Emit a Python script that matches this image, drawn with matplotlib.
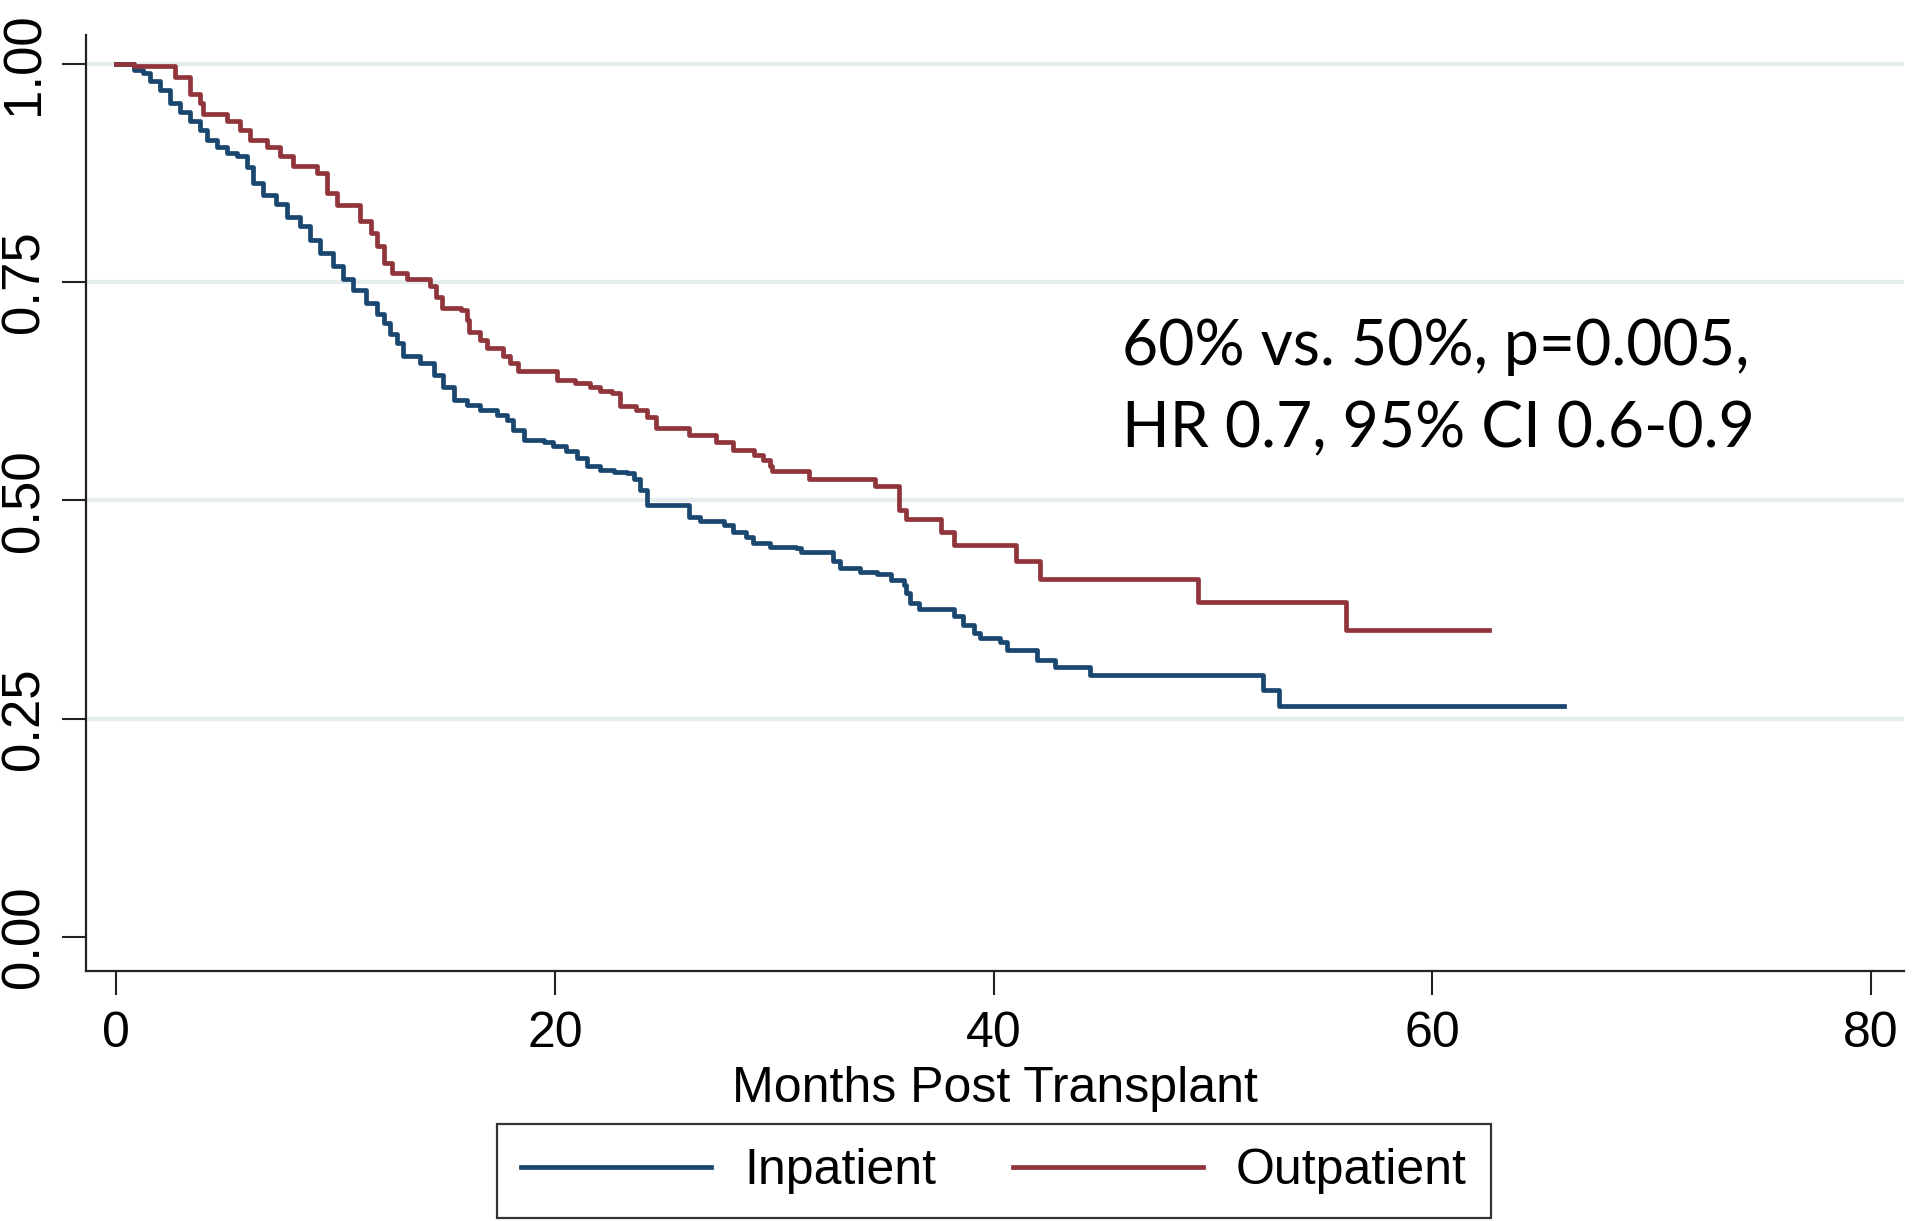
import matplotlib
matplotlib.use("Agg")
import matplotlib.pyplot as plt

# Kaplan-Meier curves (months, survival)
inpatient_t = [0, 0.8, 1.25, 1.55, 2.0, 2.46, 2.92, 3.37, 3.83, 4.13, 4.59, 5.05, 5.5,
               5.96, 6.26, 6.7, 7.3, 7.78, 8.39, 8.84, 9.3, 9.9, 10.36, 10.8, 11.4,
               11.9, 12.2, 12.5, 12.8, 13.1, 13.86, 14.5, 14.9, 15.4, 16.0, 16.6,
               17.35, 17.8, 18.1, 18.6, 19.5, 19.9, 20.5, 21.0, 21.45, 22.06, 22.7,
               23.3, 23.6, 23.9, 24.2, 26.1, 26.6, 27.7, 28.1, 28.7, 29.05, 29.8,
               31.0, 31.2, 32.7, 33.0, 33.9, 34.7, 35.3, 35.9, 36.0, 36.2, 36.6,
               38.2, 38.6, 39.1, 39.4, 40.3, 40.6, 42.0, 42.8, 44.4, 52.3, 53.0, 66.0]
inpatient_s = [1.0, 0.993, 0.989, 0.980, 0.970, 0.955, 0.945, 0.934, 0.924, 0.913, 0.905,
               0.898, 0.894, 0.882, 0.863, 0.850, 0.840, 0.825, 0.814, 0.798, 0.783,
               0.768, 0.753, 0.741, 0.726, 0.714, 0.703, 0.691, 0.680, 0.665, 0.657,
               0.644, 0.630, 0.615, 0.609, 0.604, 0.598, 0.592, 0.581, 0.569, 0.567,
               0.562, 0.556, 0.548, 0.539, 0.535, 0.533, 0.531, 0.525, 0.512, 0.495,
               0.481, 0.476, 0.472, 0.464, 0.458, 0.451, 0.447, 0.445, 0.441, 0.430,
               0.422, 0.418, 0.416, 0.409, 0.403, 0.394, 0.382, 0.376, 0.367, 0.357,
               0.348, 0.342, 0.338, 0.329, 0.317, 0.309, 0.300, 0.283, 0.265, 0.265]

outpatient_t = [0, 0.8, 2.7, 3.37, 3.83, 3.98, 5.05, 5.65, 6.1, 6.87, 7.47, 8.08, 9.14,
                9.6, 10.06, 11.1, 11.6, 11.9, 12.2, 12.6, 13.25, 14.3, 14.6, 14.85,
                15.7, 16.0, 16.1, 16.6, 16.9, 17.65, 17.96, 18.3, 20.1, 20.9, 21.6,
                22.06, 22.6, 22.97, 23.7, 24.2, 24.6, 26.1, 27.35, 28.1, 29.1, 29.5,
                29.8, 29.9, 31.6, 34.6, 35.7, 36.0, 37.6, 38.2, 41.0, 42.1, 49.3,
                56.05, 62.6]
outpatient_s = [1.0, 0.997, 0.985, 0.966, 0.955, 0.942, 0.934, 0.924, 0.913, 0.905,
                0.894, 0.883, 0.875, 0.852, 0.838, 0.820, 0.806, 0.791, 0.772, 0.761,
                0.754, 0.745, 0.733, 0.720, 0.718, 0.707, 0.693, 0.684, 0.674, 0.665,
                0.657, 0.648, 0.638, 0.634, 0.630, 0.625, 0.623, 0.608, 0.604, 0.596,
                0.583, 0.575, 0.567, 0.558, 0.552, 0.546, 0.539, 0.534, 0.525, 0.516,
                0.489, 0.479, 0.464, 0.449, 0.430, 0.410, 0.384, 0.352, 0.352]

x_ticks = [0, 20, 40, 60, 80]
y_ticks = [0.0, 0.25, 0.5, 0.75, 1.0]
groups = ["Inpatient", "Outpatient"]
note_lines = ["60% vs. 50%, p=0.005,", "HR 0.7, 95% CI 0.6-0.9"]

navy = "#1a476f"
maroon = "#90353b"

plt.rcParams['font.family'] = ['Liberation Sans', 'DejaVu Sans']

fig = plt.figure(figsize=(19.2, 12.21), dpi=100)
ax = fig.add_axes([0.0448, 0.2048, 0.9469, 0.7665])

ax.step(inpatient_t, inpatient_s, where='post', color=navy, lw=3.4, label=groups[0])
ax.step(outpatient_t, outpatient_s, where='post', color=maroon, lw=3.4, label=groups[1])

ax.set_xlim(-1.37, 81.5)
ax.set_ylim(-0.039, 1.033)

# grid
for yv in y_ticks[1:]:
    ax.axhline(yv, color='#e6edef', lw=3, zorder=0)

ax.spines['top'].set_visible(False)
ax.spines['right'].set_visible(False)
for s in ['left', 'bottom']:
    ax.spines[s].set_linewidth(1.6)
    ax.spines[s].set_color('#222222')

ax.set_xticks(x_ticks)
ax.set_xticklabels([str(v) for v in x_ticks], fontsize=36)
ax.set_yticks(y_ticks)
ax.set_yticklabels(["%.2f" % v for v in y_ticks], fontsize=38, rotation=90, va='center')
ax.tick_params(axis='both', length=17, width=1.5, color='#222222')
ax.tick_params(axis='x', pad=12)
ax.tick_params(axis='y', pad=9)

ax.set_xlabel("Months Post Transplant", fontsize=36, labelpad=6)

ax.text(45.85, 0.655, note_lines[0], fontsize=45, family=['Lato', 'DejaVu Sans'])
ax.text(45.85, 0.561, note_lines[1], fontsize=45, family=['Lato', 'DejaVu Sans'])

leg = fig.legend(loc='upper center', bbox_to_anchor=(0.5177, 0.0794), ncol=2,
                 fontsize=36, handlelength=3.8, handletextpad=0.66, columnspacing=1.54,
                 fancybox=False, borderpad=0.48, borderaxespad=0)
leg.get_frame().set_edgecolor('black')
leg.get_frame().set_linewidth(1.6)
for h in leg.get_lines():
    h.set_linewidth(3.4)

fig.savefig("out.png", dpi=100)
